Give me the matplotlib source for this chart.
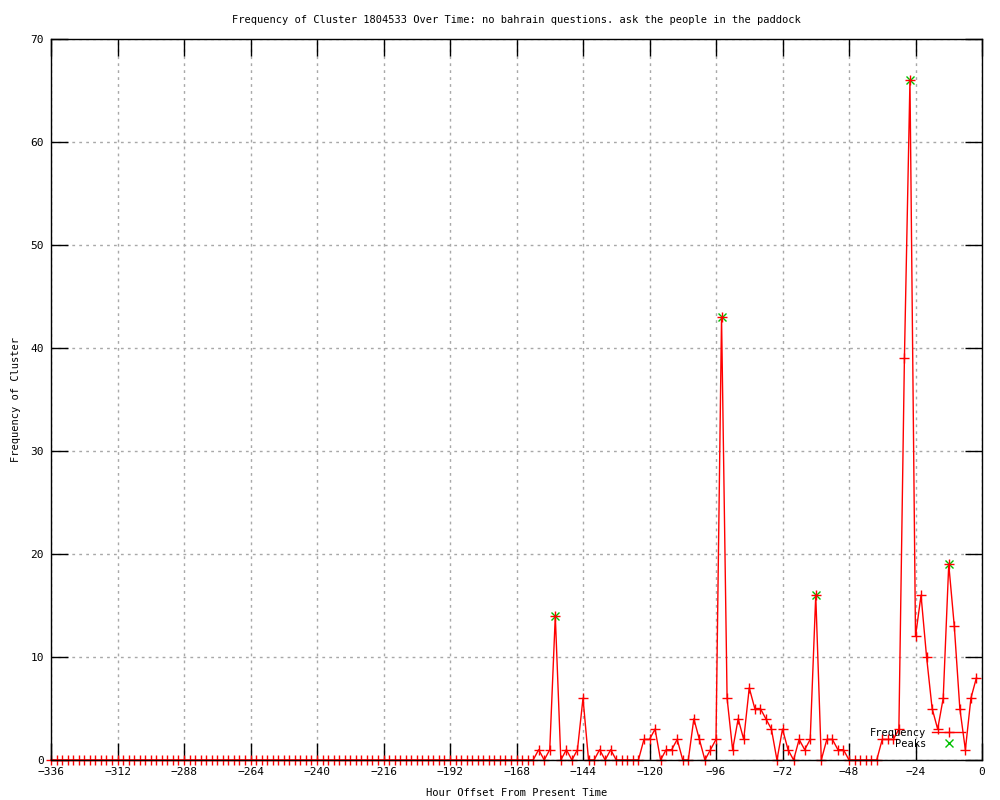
import numpy as np
import matplotlib.pyplot as plt

# ------------------------------------------------------------
# Data (hour offset, frequency)
# ------------------------------------------------------------
hours = list(range(-336, 0, 2))

# non-zero tail from -160 to -2 (everything earlier is 0)
tail = [1, 0, 1, 14, 0, 1, 0, 1, 6, 0,
        0, 1, 0, 1, 0, 0, 0, 0, 0, 2,
        2, 3, 0, 1, 1, 2, 0, 0, 4, 2,
        0, 1, 2, 43, 6, 1, 4, 2, 7, 5,
        5, 4, 3, 0, 3, 1, 0, 2, 1, 2,
        16, 0, 2, 2, 1, 1, 0, 0, 0, 0,
        0, 0, 2, 2, 2, 3, 39, 66, 12, 16,
        10, 5, 3, 6, 19, 13, 5, 1, 6, 8]
freq = [0] * (len(hours) - len(tail)) + tail

peak_hours = [-154, -94, -60, -26, -12]
peak_vals = [14, 43, 16, 66, 19]

title = "Frequency of Cluster 1804533 Over Time: no bahrain questions. ask the people in the paddock"

# ------------------------------------------------------------
# Plot
# ------------------------------------------------------------
plt.rcParams['font.family'] = ['DejaVu Sans Mono']
plt.rcParams['font.size'] = 7.5

fig = plt.figure(figsize=(10, 8), dpi=100)
ax = fig.add_axes([0.051, 0.05, 0.931, 0.901])

ax.plot(peak_hours, peak_vals, linestyle="none", marker="x", color="#00c000",
        markersize=5.5, markeredgewidth=1, label="Peaks", zorder=2, clip_on=False)
ax.plot(hours, freq, "-", color="red", lw=1, marker="+", markersize=6.5,
        markeredgewidth=1, label="Frequency", zorder=2.2, clip_on=False)

ax.set_xlim(-336, 0)
ax.set_ylim(0, 70)
ax.set_xticks(np.arange(-336, 1, 24))
ax.set_yticks(np.arange(0, 71, 10))

ax.grid(True, color="#a8a8a8", linestyle=(0, (2, 3)), linewidth=1)
ax.tick_params(direction="in", length=12, width=1, top=True, right=True,
               pad=5, colors="black", labelsize=8)
for s in ax.spines.values():
    s.set_linewidth(1)

ax.set_title(title, fontsize=7.5, pad=12)
ax.set_xlabel("Hour Offset From Present Time", labelpad=8)
ax.set_ylabel("Frequency of Cluster", labelpad=7)

h, l = ax.get_legend_handles_labels()
ax.legend(h[::-1], l[::-1], loc="lower right", bbox_to_anchor=(0.99, 0.005),
          markerfirst=False, frameon=False, handlelength=3.2,
          labelspacing=0.1, handletextpad=0.6, borderpad=0.2)

fig.savefig("out.png", dpi=100)
